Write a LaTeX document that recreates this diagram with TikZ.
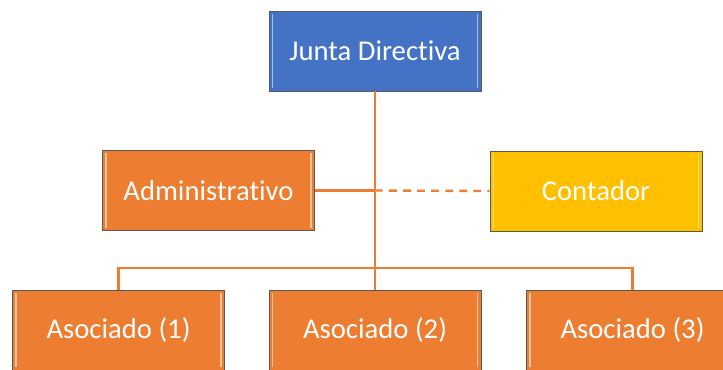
\documentclass[tikz,border=0pt]{standalone}
\usepackage{fontspec}
\setmainfont{Carlito}[Ligatures=NoCommon]
\usetikzlibrary{positioning,calc}
\definecolor{jdblue}{HTML}{4472C4}
\definecolor{orgorange}{HTML}{ED7D31}
\definecolor{orgyellow}{HTML}{FFC000}
\begin{document}
\begin{tikzpicture}[
  orgbox/.style={rectangle, draw=black!65, line width=0.5pt, text=white,
    minimum width=5.3cm, minimum height=2cm, inner sep=0pt,
    font=\fontsize{20.4}{24}\selectfont,
    path picture={
      \draw[white, opacity=0.55, line width=1.2pt]
        ([xshift=2.5pt,yshift=-2pt]path picture bounding box.north west) --
        ([xshift=2.5pt,yshift=2pt]path picture bounding box.south west)
        ([xshift=-2.5pt,yshift=-2pt]path picture bounding box.north east) --
        ([xshift=-2.5pt,yshift=2pt]path picture bounding box.south east);
    }},
  conn/.style={draw=orgorange, line width=1.7pt}
]
\useasboundingbox (0,0) rectangle (18.075,-9.225);

% top
\node[orgbox, fill=jdblue] at (9.375,-1.275) (jd) {Junta Directiva};

% staff
\node[orgbox, fill=orgorange] at (5.2125,-4.7625) (adm) {Administrativo};
\node[orgbox, fill=orgyellow] at (14.9,-4.775) (cont) {Contador};

% members
\node[orgbox, fill=orgorange] at (2.9625,-8.25) (a1) {Asociado (1)};
\node[orgbox, fill=orgorange] at (9.375,-8.25) (a2) {Asociado (2)};
\node[orgbox, fill=orgorange] at (15.8125,-8.25) (a3) {Asociado (3)};

\coordinate (mid) at (jd.south |- adm.east);
\coordinate (bus) at (jd.south |- 0,-6.7);

\draw[conn] (jd.south) -- (a2.north);
\draw[conn] (adm.east) -- (mid);
\draw[conn, dash pattern=on 5.5pt off 4.5pt] (mid) -- (cont.west);
\draw[conn] (a1.north) |- (bus) -| (a3.north);

\end{tikzpicture}
\end{document}
